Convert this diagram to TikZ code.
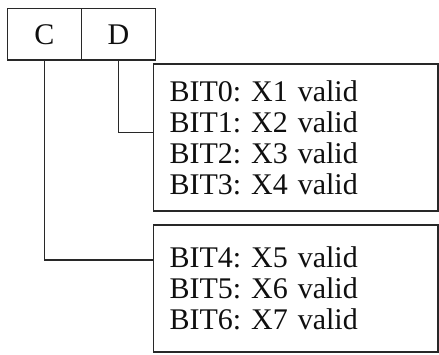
\documentclass[tikz,border=0pt]{standalone}
\usepackage{fontspec}
\setmainfont{Liberation Serif}
\usetikzlibrary{positioning}
\definecolor{cline}{RGB}{40,40,40}
\definecolor{ctext}{RGB}{15,15,15}
\tikzset{
  cell/.style={rectangle, draw=cline, line width=1.8pt, outer sep=0pt,
    minimum width=74pt, minimum height=51.5pt, text=ctext,
    font=\fontsize{30}{31}\selectfont},
  bitbox/.style={rectangle, draw=cline, line width=1.8pt, outer sep=0pt,
    minimum width=284.5pt, minimum height=#1, text width=252.5pt,
    inner xsep=16pt, align=left, text=ctext,
    font=\fontsize{30}{31}\selectfont\frenchspacing},
  wire/.style={draw=cline, line width=1.8pt}
}

\begin{document}
\begin{tikzpicture}[x=1pt,y=-1pt]
  \useasboundingbox (0,0) rectangle (439,354);
  \node[cell, anchor=north west] (c) at (7.5,8.5) {C};
  \node[cell, right=0pt of c] (d) {D};
  \node[bitbox=147pt, anchor=north west] (lo) at (153.5,64)
    {BIT0: X1 valid\\BIT1: X2 valid\\BIT2: X3 valid\\BIT3: X4 valid};
  \node[bitbox=127pt, anchor=north west] (hi) at (153.5,225)
    {BIT4: X5 valid\\BIT5: X6 valid\\BIT6: X7 valid};

  \draw[wire] (d.south) |- ([yshift=5pt]lo.west);
  \draw[wire] (c.south) |- ([yshift=28.5pt]hi.west);
\end{tikzpicture}
\end{document}
